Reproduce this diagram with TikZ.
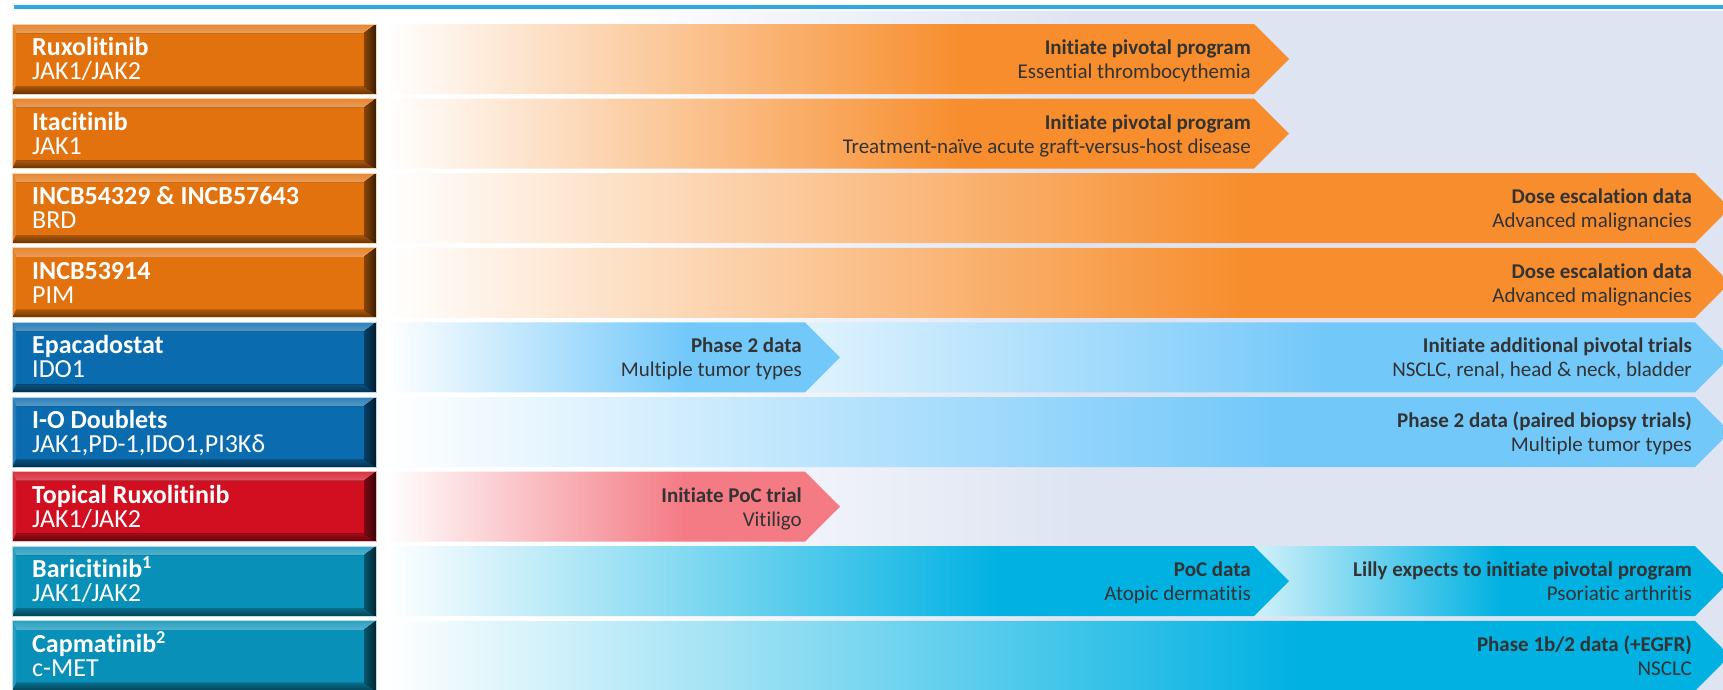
\documentclass[tikz,border=0pt]{standalone}
\usepackage{fontspec}
\setmainfont[Ligatures=NoCommon]{Carlito}
\definecolor{topline}{HTML}{2AAAE1}
\definecolor{lav}{HTML}{DEE4F2}
\definecolor{borange}{HTML}{F78D2C}
\definecolor{bblue}{HTML}{73C8FA}
\definecolor{bpink}{HTML}{F47A84}
\definecolor{bcyan}{HTML}{00B1E2}
\definecolor{korange}{HTML}{E2720D}
\definecolor{kblue}{HTML}{0A6CAE}
\definecolor{kred}{HTML}{D20F20}
\definecolor{kteal}{HTML}{0990B8}
\definecolor{txt}{HTML}{333333}
\colorlet{bblueL}{bblue!22!white}
\colorlet{bcyanL}{bcyan!18!white}
\pgfdeclarehorizontalshading{bgfade}{100bp}{color(0bp)=(white); color(33bp)=(white); color(51bp)=(lav); color(100bp)=(lav)}
\pgfdeclarehorizontalshading{fadeorange}{100bp}{color(0bp)=(white); color(25bp)=(white); color(57bp)=(borange); color(100bp)=(borange)}
\pgfdeclarehorizontalshading{fadeblue}{100bp}{color(0bp)=(white); color(25bp)=(white); color(58bp)=(bblue); color(100bp)=(bblue)}
\pgfdeclarehorizontalshading{fadeblueB}{100bp}{color(0bp)=(bblueL); color(25bp)=(bblueL); color(53bp)=(bblue); color(100bp)=(bblue)}
\pgfdeclarehorizontalshading{fadepink}{100bp}{color(0bp)=(white); color(25bp)=(white); color(58bp)=(bpink); color(100bp)=(bpink)}
\pgfdeclarehorizontalshading{fadecyan}{100bp}{color(0bp)=(white); color(25bp)=(white); color(59bp)=(bcyan); color(100bp)=(bcyan)}
\pgfdeclarehorizontalshading{fadecyanB}{100bp}{color(0bp)=(bcyanL); color(25bp)=(bcyanL); color(51bp)=(bcyan); color(100bp)=(bcyan)}
\tikzset{
  boxtitle/.style={inner sep=0pt, text=white, font=\fontsize{26}{30}\selectfont\bfseries},
  boxsub/.style={inner sep=0pt, text=white, font=\fontsize{26}{30}\selectfont},
  bandtitle/.style={inner sep=0pt, text=txt, font=\fontsize{21}{25}\selectfont\bfseries},
  bandsub/.style={inner sep=0pt, text=txt, font=\fontsize{21}{25}\selectfont},
}
\newcommand\drugbox[5]{%
  \pgfmathsetmacro\dbyt{#3}\pgfmathsetmacro\dbyb{#3+70}%
  \pgfmathsetmacro\dbyti{#3+9}\pgfmathsetmacro\dbybi{#3+62}%
  \fill[#2] (12,\dbyt) rectangle (376,\dbyb);
  \fill[top color=#2!85!white, bottom color=#2!70!white] (12,\dbyt) -- (376,\dbyt) -- (364,\dbyti) -- (16,\dbyti) -- cycle;
  \fill[top color=#2!75!black, bottom color=#2!45!black] (12,\dbyb) -- (376,\dbyb) -- (364,\dbybi) -- (16,\dbybi) -- cycle;
  \fill[#2!88!white] (12,\dbyt) -- (16,\dbyti) -- (16,\dbybi) -- (12,\dbyb) -- cycle;
  \fill[left color=#2!60!black, right color=#2!25!black] (376,\dbyt) -- (376,\dbyb) -- (364,\dbybi) -- (364,\dbyti) -- cycle;
  \draw[#2!30!white, line width=0.8] (12,\dbyt) rectangle (376,\dbyb);
  \node[boxtitle, anchor=base west] (#1t) at (32,#3+31.5) {#4};
  \node[boxsub, anchor=base west] (#1s) at (32,#3+55.5) {#5};
}
\newcommand\chev[4]{%
  \pgfmathsetmacro\cvb{#4+70}\pgfmathsetmacro\cvm{#4+35}\pgfmathsetmacro\cvt{#3+35}%
  \shade[shading=#1] (#2,#4) -- (#3,#4) -- (\cvt,\cvm) -- (#3,\cvb) -- (#2,\cvb) -- cycle;
}
\newcommand\bandtext[5]{%
  \node[bandtitle, anchor=base east] (#1a) at (#2,#3+30.5) {#4};
  \node[bandsub, anchor=base east] (#1b) at (#2,#3+54.5) {#5};
}
\begin{document}
\begin{tikzpicture}[x=1pt,y=-1pt]
\useasboundingbox (0,0) rectangle (1723,689);
\fill[white] (0,0) rectangle (1723,689);
% background
\shade[shading=bgfade] (380,11) rectangle (1723,689);
\fill[topline] (14,5) rectangle (1723,9);
% row 1
\drugbox{rux}{korange}{24}{Ruxolitinib}{JAK1/JAK2}
\chev{fadeorange}{386}{1254}{24}
\bandtext{ruxm}{1251}{24}{Initiate pivotal program}{Essential thrombocythemia}
% row 2
\drugbox{ita}{korange}{98.6}{Itacitinib}{JAK1}
\chev{fadeorange}{386}{1254}{98.6}
\bandtext{itam}{1251}{98.6}{Initiate pivotal program}{Treatment-naïve acute graft-versus-host disease}
% row 3
\drugbox{incb}{korange}{173.2}{INCB54329 \& INCB57643}{BRD}
\chev{fadeorange}{386}{1695}{173.2}
\bandtext{incbm}{1692}{173.2}{Dose escalation data}{Advanced malignancies}
% row 4
\drugbox{pim}{korange}{247.8}{INCB53914}{PIM}
\chev{fadeorange}{386}{1695}{247.8}
\bandtext{pimm}{1692}{247.8}{Dose escalation data}{Advanced malignancies}
% row 5
\drugbox{epa}{kblue}{322.4}{Epacadostat}{IDO1}
\chev{fadeblueB}{805}{1695}{322.4}
\chev{fadeblue}{386}{805}{322.4}
\bandtext{epam}{802}{322.4}{Phase 2 data}{Multiple tumor types}
\bandtext{epan}{1692}{322.4}{Initiate additional pivotal trials}{NSCLC, renal, head \& neck, bladder}
% row 6
\drugbox{io}{kblue}{397}{I-O Doublets}{JAK1,PD-1,IDO1,PI3Kδ}
\chev{fadeblue}{386}{1695}{397}
\bandtext{iom}{1692}{397}{Phase 2 data (paired biopsy trials)}{Multiple tumor types}
% row 7
\drugbox{top}{kred}{471.6}{Topical Ruxolitinib}{JAK1/JAK2}
\chev{fadepink}{386}{805}{471.6}
\bandtext{topm}{802}{471.6}{Initiate PoC trial}{Vitiligo}
% row 8
\drugbox{bar}{kteal}{546.2}{Baricitinib\textsuperscript{1}}{JAK1/JAK2}
\chev{fadecyanB}{1254}{1695}{546.2}
\chev{fadecyan}{386}{1254}{546.2}
\bandtext{barm}{1251}{546.2}{PoC data}{Atopic dermatitis}
\bandtext{barn}{1692}{546.2}{Lilly expects to initiate pivotal program}{Psoriatic arthritis}
% row 9
\drugbox{cap}{kteal}{620.8}{Capmatinib\textsuperscript{2}}{c-MET}
\chev{fadecyan}{386}{1695}{620.8}
\bandtext{capm}{1692}{620.8}{Phase 1b/2 data (+EGFR)}{NSCLC}
\end{tikzpicture}
\end{document}
